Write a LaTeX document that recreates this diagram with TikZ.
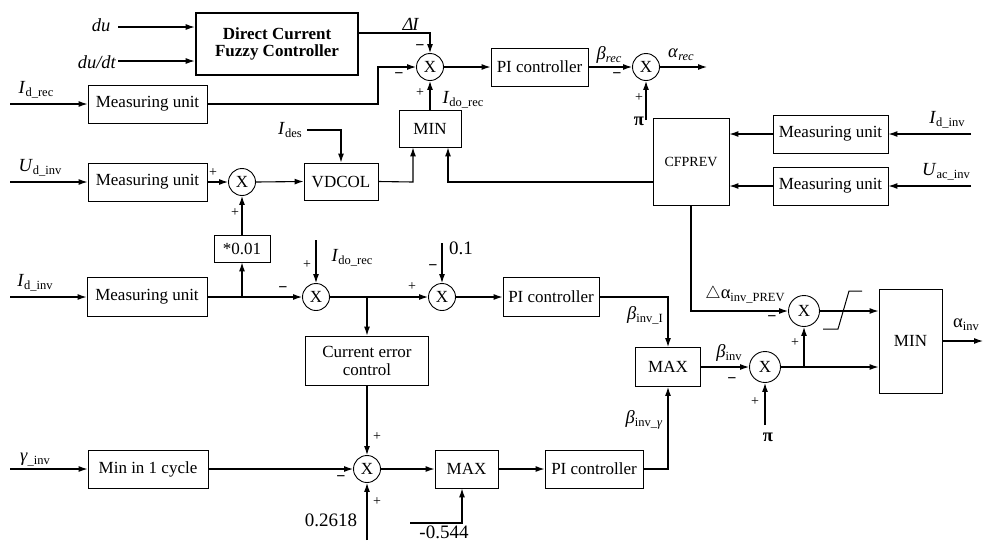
\documentclass[tikz,border=0pt]{standalone}
\usepackage{fontspec}
\setmainfont{Liberation Serif}
\usetikzlibrary{arrows.meta}
\newcommand\lsub[1]{\raisebox{-0.35ex}{\fontsize{12.5}{12.5}\selectfont #1}}
\newcommand\fsz{\fontsize{17}{19}\selectfont}
\newcommand\flab{\fontsize{18.5}{20}\selectfont}
\newcommand\fnum{\fontsize{19}{21}\selectfont}
\begin{document}
\begin{tikzpicture}[x=1pt,y=-1pt,
  line width=1.1pt,
  blk/.style={draw,line width=0.9pt,inner sep=0pt,font=\fsz,align=center},
  sumc/.style={circle,draw,line width=0.9pt,inner sep=0pt,minimum size=27pt,font=\fsz},
  sumb/.style={sumc,minimum size=31pt},
  arr/.style={-{Latex[length=9pt,width=6pt]}},
  lab/.style={inner sep=0pt,font=\flab},
  sgn/.style={inner sep=0pt,font=\fontsize{14}{14}\selectfont},
  msg/.style={inner sep=0pt,font=\fontsize{16}{16}\selectfont\bfseries},
  numl/.style={inner sep=0pt,font=\fnum}]
\useasboundingbox (0,0) rectangle (983,542);

% ---------- top block ----------
\node[blk,line width=2.6pt,minimum width=162pt,minimum height=62pt,font=\fsz\bfseries] (fz) at (277,44) {Direct Current\\[-2pt]Fuzzy Controller};
\node[lab] (ldu) at (101,25) {\textit{du}};
\node[lab] (ldudt) at (97,62) {\textit{du/dt}};
\coordinate (du) at (118,27);
\coordinate (dudt) at (118,61);
\draw[arr] (du) -- (du -| fz.west);
\draw[arr] (dudt) -- (dudt -| fz.west);

\node[sumc] (c1) at (430,67) {X};
\coordinate (f1) at (430,33);
\draw[arr] ([yshift=11pt]fz.east) -- (f1) -- (c1.north);
\node[lab] (ldi) at (411,24) {\textit{Δ\kern-1pt I}};
\node[msg] (s1a) at (420,48) {−};
\node[msg] (s1b) at (399,76) {−};
\node[sgn] (s1c) at (420,93) {+};

\node[blk,minimum width=119pt,minimum height=38pt] (mu1) at (147.5,104) {Measuring unit};
\coordinate (in1) at (10,104);
\draw[arr] (in1) -- (mu1.west);
\node[lab] (lidrec) at (36,90) {\textit{I}\lsub{d\_rec}};
\coordinate (b1) at (378,104);
\draw[arr] (mu1.east) -- (b1) |- (c1.west);

\node[blk,minimum width=97pt,minimum height=38pt] (pi1) at (539.5,67) {PI controller};
\draw[arr] (c1.east) -- (pi1.west);
\node[sumc] (c3) at (646,67) {X};
\draw[arr] (pi1.east) -- (c3.west);
\node[lab] (lbrec) at (609,55) {\textit{β}\lsub{\textit{rec}}};
\node[msg] (s3a) at (617,76) {−};
\node[sgn] (s3b) at (639,98) {+};
\coordinate (out1) at (707,67);
\draw[arr] (c3.east) -- (out1);
\node[lab] (larec) at (681,55) {\textit{α}\lsub{\textit{rec}}};
\coordinate (pi3in) at (646,120);
\draw[arr] (pi3in) -- (c3.south);
\node[lab] (lpi1) at (639,121) {\textbf{π}};

\node[blk,minimum width=62pt,minimum height=37pt] (min1) at (430,128.5) {MIN};
\draw[arr] (min1.north) -- (c1.south);
\node[lab] (lidorec) at (463,100) {\textit{I}\lsub{do\_rec}};

\node[blk,minimum width=74pt,minimum height=37pt] (vdcol) at (341,181.5) {VDCOL};
\node[lab] (lides) at (290,130) {\textit{I}\lsub{des}};
\coordinate (d1) at (307,130);
\coordinate (d2) at (341,130);
\draw[arr] (d1) -- (d2) -- (vdcol.north);

\node[blk,minimum width=119pt,minimum height=38pt] (mu2) at (147.5,182) {Measuring unit};
\coordinate (in2) at (10,182);
\draw[arr] (in2) -- (mu2.west);
\node[lab] (ludinv) at (40,168) {\textit{U}\lsub{d\_inv}};
\node[sumc] (c2) at (242,182) {X};
\draw[arr] (mu2.east) -- (c2.west);
\draw[arr] (c2.east) -- (vdcol.west);
\node[sgn] (s2a) at (213,173) {+};
\node[sgn] (s2b) at (235,213) {+};
\coordinate (v1) at (413,182);
\draw[arr] (vdcol.east) -- (v1) -- (v1 |- min1.south);

\node[blk,minimum width=76pt,minimum height=87pt,font=\fontsize{14}{16}\selectfont] (cf) at (691,161.5) {CFPREV};
\coordinate (m2) at (448,182);
\draw[arr] ([yshift=-20.5pt]cf.west) -- (m2) -- (m2 |- min1.south);

\node[blk,minimum width=115pt,minimum height=38pt] (mu3) at (830.5,134) {Measuring unit};
\node[blk,minimum width=115pt,minimum height=38pt] (mu4) at (830.5,186) {Measuring unit};
\draw[arr] (mu3.west) -- (mu3.west -| cf.east);
\draw[arr] (mu4.west) -- (mu4.west -| cf.east);
\coordinate (in3) at (971,134);
\coordinate (in4) at (971,186);
\draw[arr] (in3) -- (mu3.east);
\draw[arr] (in4) -- (mu4.east);
\node[lab] (lidinv1) at (947,120) {\textit{I}\lsub{d\_inv}};
\node[lab] (luacinv) at (946,172) {\textit{U}\lsub{ac\_inv}};

% ---------- middle ----------
\node[blk,minimum width=56pt,minimum height=27pt] (s01) at (242,248.5) {*0.01};
\draw[arr] (s01.north) -- (c2.south);

\node[blk,minimum width=120pt,minimum height=39pt] (mu5) at (147,297) {Measuring unit};
\coordinate (in5) at (10,297);
\draw[arr] (in5) -- (mu5.west);
\node[lab] (lidinv2) at (35,283) {\textit{I}\lsub{d\_inv}};
\node[sumc] (c4) at (316,297) {X};
\draw[arr] (mu5.east) -- (c4.west);
\coordinate (j1) at (242,297);
\draw[arr] (j1) -- (s01.south);
\node[msg] (s4a) at (283,290) {−};
\node[sgn] (s4b) at (307,265) {+};
\coordinate (i4) at (316,240);
\draw[arr] (i4) -- (c4.north);
\node[lab] (lidorec2) at (352,258) {\textit{I}\lsub{do\_rec}};

\node[sumc] (c5) at (442,297) {X};
\draw[arr] (c4.east) -- (c5.west);
\node[sgn] (s5a) at (412,287) {+};
\node[msg] (s5b) at (433,268) {−};
\coordinate (i5) at (442,243);
\draw[arr] (i5) -- (c5.north);
\node[numl] (l01) at (461,248) {0.1};

\node[blk,minimum width=123pt,minimum height=49pt] (cec) at (367,360.5) {Current error\\[-1pt]control};
\coordinate (j2) at (367,297);
\draw[arr] (j2) -- (cec.north);

\node[blk,minimum width=96pt,minimum height=39pt] (pi2) at (551,297) {PI controller};
\draw[arr] (c5.east) -- (pi2.west);
\node[blk,minimum width=65pt,minimum height=39pt] (max1) at (668,367) {MAX};
\coordinate (p2) at (668,297);
\draw[arr] (pi2.east) -- (p2) -- (max1.north);
\node[lab] (lbinvi) at (645,315) {\textit{β}\lsub{inv\_I}};

\node[sumb] (c6) at (765,367) {X};
\draw[arr] (max1.east) -- (c6.west);
\node[lab] (lbinv) at (729,353) {\textit{β}\lsub{inv}};
\node[msg] (s6a) at (732,381) {−};
\node[sgn] (s6b) at (755,402) {+};
\coordinate (i6) at (765,425);
\draw[arr] (i6) -- (c6.south);
\node[lab] (lpi2) at (768,437) {\textbf{π}};

\node[sumb] (c7) at (804,311) {X};
\node[blk,minimum width=63pt,minimum height=104pt] (min2) at (910.5,341) {MIN};
\coordinate (cfb) at (691,311);
\draw[arr] (cf.south) -- (cfb) -- (c7.west);
\node[lab] (ldap) at (745,295) {$\triangle$α\lsub{inv\_PREV}};
\node[msg] (s7a) at (772,319) {−};
\node[sgn] (s7b) at (795,343) {+};
\draw[arr] (c7.east) -- (c7 -| min2.west);
\draw[line width=1pt] (823,329) -- (838,329) -- (849,291) -- (862,291);
\coordinate (j3) at (804,367);
\draw[arr] (c6.east) -- (c6 -| min2.west);
\draw[arr] (j3) -- (c7.south);
\coordinate (out2) at (983,341);
\draw[arr] (min2.east) -- (out2);
\node[lab] (lainv) at (966,325) {α\lsub{inv}};

% ---------- bottom ----------
\node[blk,minimum width=120pt,minimum height=38pt] (mic) at (148,469) {Min in 1 cycle};
\coordinate (in6) at (10,469);
\draw[arr] (in6) -- (mic.west);
\node[lab] (lginv) at (35,460) {\textit{γ}\lsub{\_inv}};
\node[sumc] (c8) at (367,469) {X};
\draw[arr] (mic.east) -- (c8.west);
\draw[arr] (cec.south) -- (c8.north);
\coordinate (i8) at (367,540);
\draw[arr] (i8) -- (c8.south);
\node[sgn] (s8a) at (377,437) {+};
\node[msg] (s8b) at (341,479) {−};
\node[sgn] (s8c) at (377,502) {+};
\node[numl] (l2618) at (331,520) {0.2618};

\node[blk,minimum width=63pt,minimum height=38pt] (max2) at (466.5,469) {MAX};
\draw[arr] (c8.east) -- (max2.west);
\node[blk,minimum width=98pt,minimum height=38pt] (pi3) at (594,469) {PI controller};
\draw[arr] (max2.east) -- (pi3.west);
\coordinate (p3) at (668,469);
\draw[arr] (pi3.east) -- (p3) -- (max1.south);
\node[lab] (lbinvg) at (644,420) {\textit{β}\lsub{inv\_\textit{γ}}};
\coordinate (n1) at (410,523);
\coordinate (n2) at (462,523);
\draw[arr] (n1) -- (n2) -- (n2 |- max2.south);
\node[numl] (l0544) at (444,532) {-0.544};
\end{tikzpicture}
\end{document}
